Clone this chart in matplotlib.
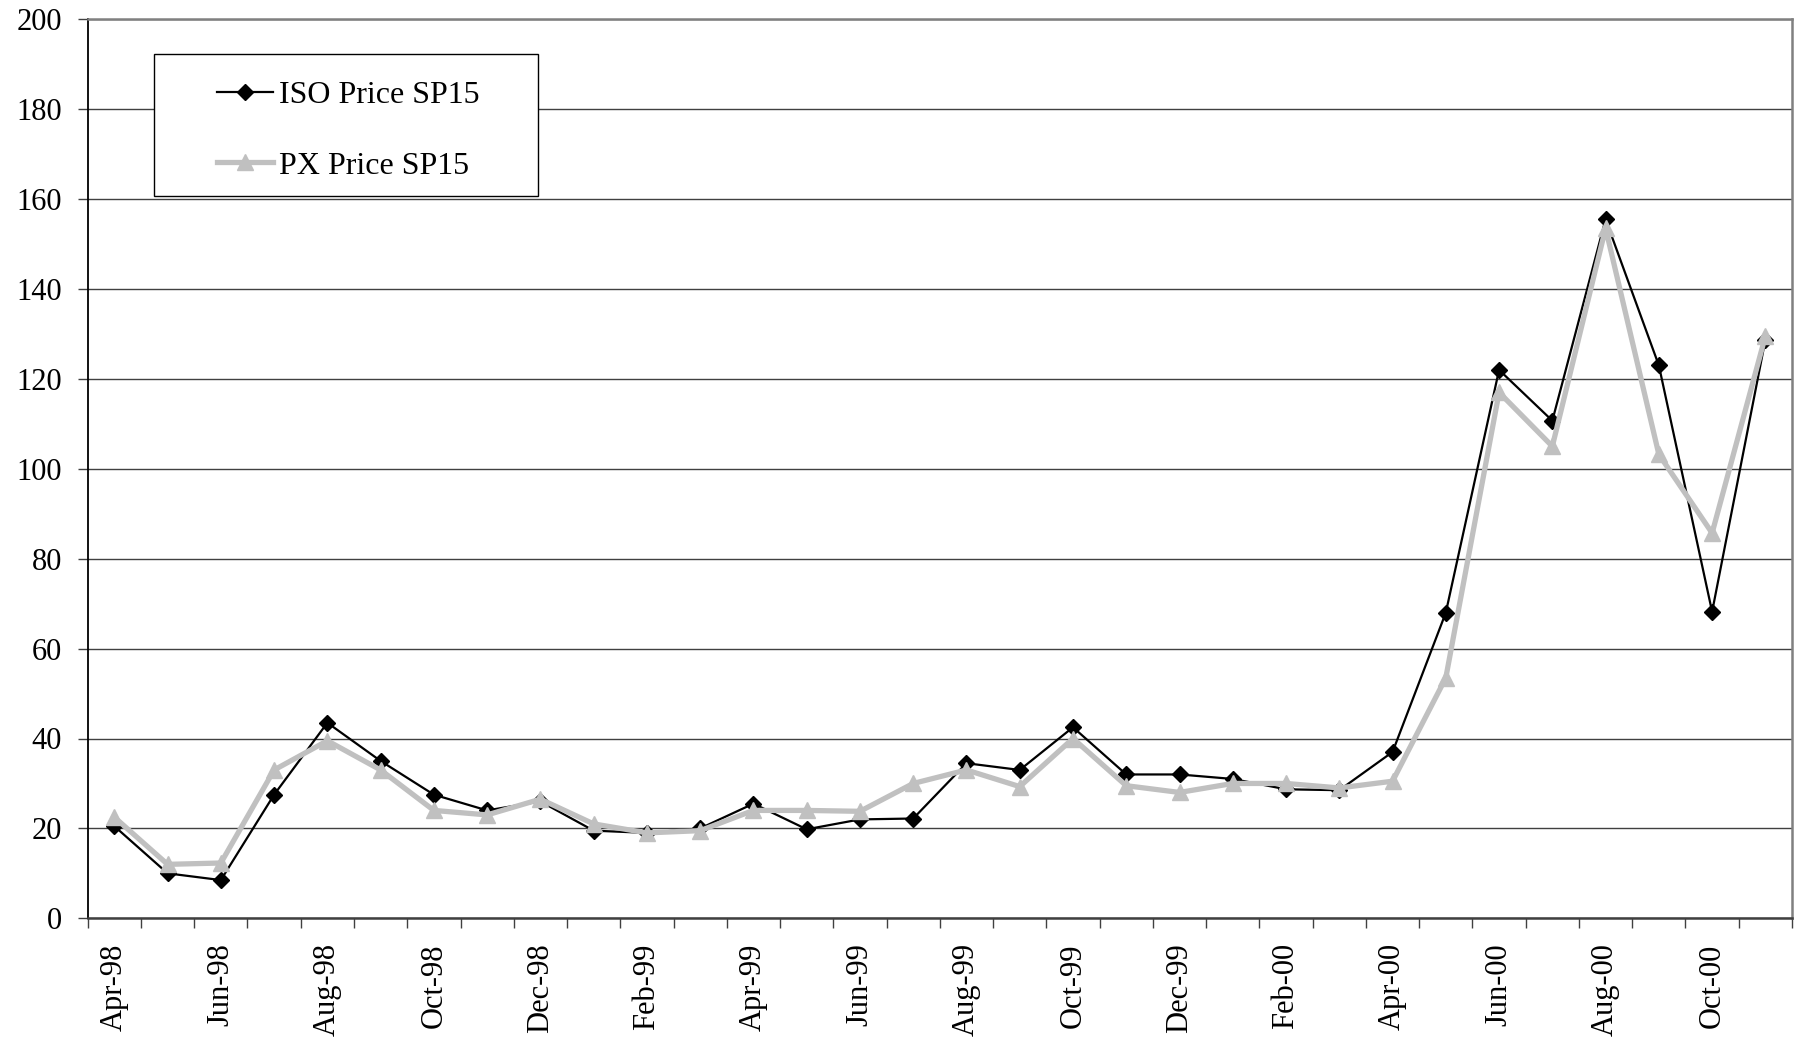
import numpy as np
import matplotlib.pyplot as plt
from matplotlib.patches import Rectangle

# Months Apr-98 .. Nov-00
months = ['Apr-98', 'May-98', 'Jun-98', 'Jul-98', 'Aug-98', 'Sep-98', 'Oct-98', 'Nov-98',
          'Dec-98', 'Jan-99', 'Feb-99', 'Mar-99', 'Apr-99', 'May-99', 'Jun-99', 'Jul-99',
          'Aug-99', 'Sep-99', 'Oct-99', 'Nov-99', 'Dec-99', 'Jan-00', 'Feb-00', 'Mar-00',
          'Apr-00', 'May-00', 'Jun-00', 'Jul-00', 'Aug-00', 'Sep-00', 'Oct-00', 'Nov-00']

iso_price = [20.5, 10.0, 8.5, 27.5, 43.5, 35.0, 27.5, 24.0,
             26.0, 19.5, 19.0, 20.0, 25.5, 19.8, 22.0, 22.2,
             34.5, 33.0, 42.5, 32.0, 32.0, 31.0, 28.7, 28.5,
             37.0, 68.0, 122.0, 110.7, 155.5, 123.0, 68.2, 128.7]

px_price = [22.5, 12.0, 12.3, 33.0, 39.5, 33.0, 24.0, 23.0,
            26.5, 21.0, 19.0, 19.5, 24.0, 24.0, 23.8, 30.0,
            33.0, 29.3, 40.0, 29.5, 28.0, 30.0, 30.0, 29.0,
            30.5, 53.5, 117.0, 105.0, 153.5, 103.2, 85.7, 129.5]

plt.rcParams['font.family'] = ['Liberation Serif', 'DejaVu Serif']

W, H = 1799, 1041
fig = plt.figure(figsize=(W / 100, H / 100), dpi=100)
ax = fig.add_axes([87.7 / W, 1 - 918.3 / H, (1792 - 87.7) / W, (918.3 - 19.3) / H])

x = np.arange(len(months))

# Líneas de la cuadrícula horizontales
ax.set_axisbelow(True)
ax.yaxis.grid(True, color='#404040', linewidth=1.0)

ax.plot(x, iso_price, color='black', linewidth=1.6, marker='D', markersize=8,
        markerfacecolor='black', markeredgecolor='black', label='ISO Price SP15', zorder=3)
ax.plot(x, px_price, color='#c0c0c0', linewidth=3.8, marker='^', markersize=11,
        markerfacecolor='#c0c0c0', markeredgecolor='#c0c0c0', label='PX Price SP15', zorder=4)

ax.set_xlim(-0.5, len(months) - 0.5)
ax.set_ylim(0, 200)
ax.set_yticks(np.arange(0, 201, 20))
ax.tick_params(axis='y', labelsize=22, length=7.5, width=1, color='#404040', pad=11)

# Etiquetas cada dos meses, marcas entre categorías
ax.set_xticks(x[::2])
ax.set_xticklabels(months[::2], rotation=90, fontsize=22)
ax.set_xticks(np.arange(-0.5, len(months), 1), minor=True)
ax.tick_params(axis='x', which='major', length=0, pad=18)
ax.tick_params(axis='x', which='minor', length=7.5, width=1, color='#404040')

ax.spines['left'].set_color('black')
ax.spines['left'].set_linewidth(1.3)
ax.spines['bottom'].set_color('#404040')
ax.spines['bottom'].set_linewidth(1.8)
for side in ['top', 'right']:
    ax.spines[side].set_color('#808080')
    ax.spines[side].set_linewidth(1.8)

# Leyenda con marco dibujado aparte
frame = Rectangle((154.3 / W, 1 - 196 / H), (538.3 - 154.3) / W, (196 - 54.3) / H,
                  transform=fig.transFigure, facecolor='white', edgecolor='black',
                  linewidth=1.0, zorder=9)
fig.patches.append(frame)
leg = fig.legend(loc='center left', bbox_to_anchor=(216.7 / W, 1 - 130.5 / H),
                 bbox_transform=fig.transFigure, fontsize=23, frameon=False,
                 labelspacing=1.3, handlelength=1.75, handletextpad=0.2,
                 borderpad=0, borderaxespad=0)
leg.set_zorder(10)

plt.savefig('out.png', dpi=100)
